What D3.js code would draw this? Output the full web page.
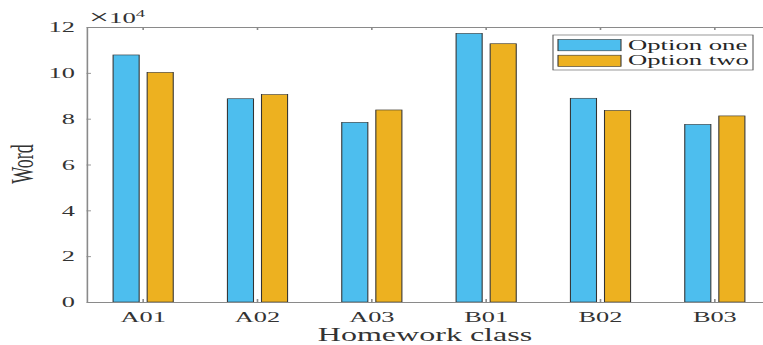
<!DOCTYPE html>
<html>
  <script src="https://d3js.org/d3.v7.min.js"></script>
  <style>
    body { margin: 0; background: #fff; }
    text { font-family: 'Liberation Serif', 'Times New Roman', serif; fill: #262626; }
  </style>
  <body>
    <svg id="vis" width="763" height="345"></svg>
    <script>
      // data (values in words)
      const categories = ['A01', 'A02', 'A03', 'B01', 'B02', 'B03']
      const series = ['Option one', 'Option two']
      const optionOne = [107800, 88700, 78400, 117200, 88900, 77500]
      const optionTwo = [100200, 90500, 83800, 112700, 83600, 81200]
      const yTicks = [0, 20000, 40000, 60000, 80000, 100000, 120000]
      const colors = ['#4DBEEE', '#EDB120']

      // the original picture is stretched sideways, so draw in a squeezed frame
      const sx = 1.78

      const svg = d3.select('#vis')
      const g = svg.append('g').attr('transform', `scale(${sx},1)`)

      const x = d3.scaleBand()
        .domain(categories)
        .range([86 / sx, 772 / sx])

      const bw = x.bandwidth()
      const x1 = d3.scaleBand()
        .domain(series)
        .range([bw * 0.237, bw * 0.763])
        .paddingInner(0.235)

      const y = d3.scaleLinear()
        .domain([0, 120000])
        .range([302, 27])

      const rows = categories.map((c, i) => ({ c, vals: [optionOne[i], optionTwo[i]] }))

      // bars
      const grp = g.selectAll('g.cat')
        .data(rows)
        .join('g')
        .attr('class', 'cat')
        .attr('transform', d => `translate(${x(d.c)},0)`)

      grp.selectAll('rect')
        .data(d => d.vals.map((v, j) => ({ s: series[j], v, j })))
        .join('rect')
        .attr('x', d => x1(d.s))
        .attr('width', x1.bandwidth())
        .attr('y', d => y(d.v))
        .attr('height', d => y(0) - y(d.v))
        .style('fill', d => colors[d.j])
        .style('stroke', '#333')
        .style('stroke-width', 0.6)

      // axes
      const yAxis = g.append('g')
        .attr('transform', `translate(${86.5 / sx},0)`)
        .call(d3.axisLeft(y).tickValues(yTicks).tickFormat(d => d / 10000)
          .tickSizeInner(-2.5).tickSizeOuter(0).tickPadding(6.5))

      const xAxis = g.append('g')
        .attr('transform', `translate(0,${y(0)})`)
        .call(d3.axisBottom(x).tickSizeInner(-3).tickSizeOuter(0).tickPadding(9.5))

      const topAxis = g.append('g')
        .attr('transform', `translate(0,${y(120000)})`)
        .call(d3.axisTop(x).tickSizeInner(-3).tickSizeOuter(0).tickFormat(''))

      for (const a of [yAxis, xAxis, topAxis]) {
        a.selectAll('path, line').style('stroke', '#8a8a8a').style('stroke-width', 0.9)
        a.selectAll('text').style('font-size', '14.8px').style('fill', '#333')
          .style('font-family', "'Liberation Serif', serif")
      }

      // exponent label
      const ex = g.append('text')
        .attr('x', 89 / sx)
        .attr('y', 23)
        .style('font-size', '15px')
        .style('fill', '#333')
      ex.append('tspan').style('font-size', '20px').attr('dy', 1).text('\u00d7')
      ex.append('tspan').attr('dy', -1).text('10')
      ex.append('tspan').attr('dy', -6).style('font-size', '10.5px').text('4')

      // axis titles
      g.append('text')
        .attr('x', 425 / sx)
        .attr('y', 341.5)
        .style('text-anchor', 'middle')
        .style('font-size', '18px')
        .style('fill', '#333')
        .text('Homework class')

      g.append('text')
        .attr('transform', `translate(${33 / sx},164) rotate(-90)`)
        .style('text-anchor', 'middle')
        .style('font-size', '18px')
        .style('fill', '#333')
        .text('Word')

      // legend
      const lg = g.append('g')
      lg.append('rect')
        .attr('x', 553 / sx).attr('y', 35)
        .attr('width', 200 / sx).attr('height', 35)
        .style('fill', '#fff')
        .style('stroke', '#555')
        .style('stroke-width', 0.6)

      series.forEach((s, j) => {
        lg.append('rect')
          .attr('x', 558 / sx).attr('y', 39.5 + j * 15.7)
          .attr('width', 63 / sx).attr('height', 11.3)
          .style('fill', colors[j])
          .style('stroke', '#333')
          .style('stroke-width', 0.6)
        lg.append('text')
          .attr('x', 628 / sx).attr('y', 50 + j * 15.5)
          .style('font-size', '15px')
          .text(s)
      })
    </script>
  </body>
</html>
